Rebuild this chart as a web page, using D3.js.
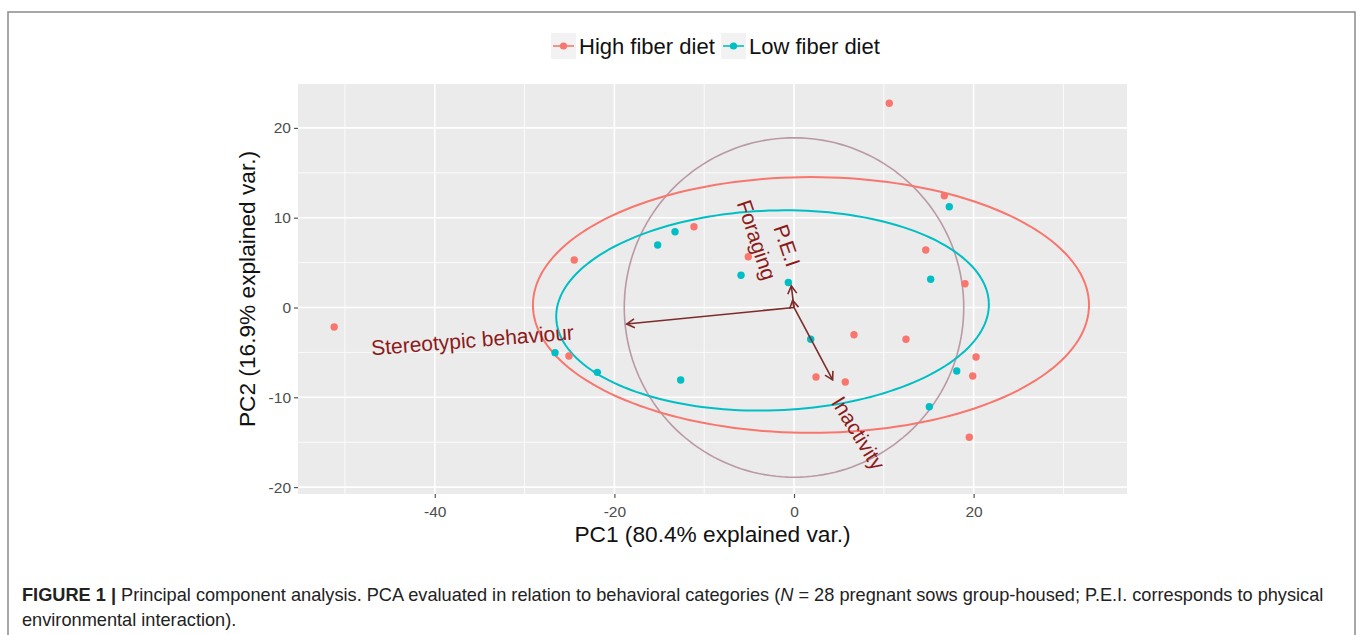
<!DOCTYPE html>
<html>
<head>
<meta charset="utf-8">
<script src="https://cdn.jsdelivr.net/npm/d3@7"></script>
<style>
  body { margin: 0; background: #fff; }
  svg { display: block; font-family: "Liberation Sans", Arial, sans-serif; }
</style>
</head>
<body>
<svg id="chart" width="1360" height="635"></svg>
<script>
// groups
const groups = ['High fiber diet', 'Low fiber diet']
const groupColors = ['#F8766D', '#00BFC4']

// PC scores, high fiber diet
const highX = [-51.2, -24.47, -11.14, -5.09, 10.61, 16.74, 14.67, 19.04, 6.68, 12.47, 20.27, 19.90, 19.52, 2.45, 5.71, -25.06]
const highY = [-2.17, 5.29, 8.99, 5.65, 22.74, 12.45, 6.40, 2.65, -3.03, -3.54, -5.51, -7.63, -14.45, -7.74, -8.30, -5.40]

// PC scores, low fiber diet
const lowX = [-26.61, -21.90, -15.18, -13.25, -5.90, -0.63, 1.86, -12.62, 17.29, 15.22, 18.12, 15.07]
const lowY = [-5.03, -7.22, 6.96, 8.44, 3.59, 2.78, -3.54, -8.07, 11.22, 3.14, -7.07, -11.05]

// group ellipses (centre, semi axes, rotation in degrees)
const ellCx = [1.89, -2.39]
const ellCy = [0.28, -0.33]
const ellA = [30.96, 24.1]
const ellB = [14.24, 11.13]
const ellRot = [0, 2]

// correlation circle
const circleR = 18.9

// variable loadings
const varNames = ['Stereotypic behaviour', 'Foraging', 'P.E.I', 'Inactivity']
const loadX = [-18.63, -0.3, -0.15, 4.3]
const loadY = [-1.84, 2.4, 0.8, -8.06]
const labelX = [-35.8, -4.15, -0.78, 7.16]
const labelY = [-3.62, 7.51, 6.9, -13.99]
const labelAngle = [-4.5, 71.5, 71.5, 58.5]

// axes
const xTicks = [-40, -20, 0, 20]
const xMinor = [-50, -30, -10, 10, 30]
const yTicks = [-20, -10, 0, 10, 20]
const yMinor = [-15, -5, 5, 15]
const xTitle = 'PC1 (80.4% explained var.)'
const yTitle = 'PC2 (16.9% explained var.)'

const svg = d3.select('#chart')

// frame round the figure
svg.append('path')
  .attr('d', 'M8,635 L8,12 L1355,12 L1355,635')
  .attr('fill', 'none')
  .attr('stroke', '#8a8a8a')
  .attr('stroke-width', 1.5)

const panel = {left: 298, right: 1127, top: 84, bottom: 494}

const x = d3.scaleLinear().domain([-55.23, 37.08]).range([panel.left, panel.right])
const y = d3.scaleLinear().domain([-20.77, 24.89]).range([panel.bottom, panel.top])

svg.append('rect')
  .attr('x', panel.left).attr('y', panel.top)
  .attr('width', panel.right - panel.left).attr('height', panel.bottom - panel.top)
  .attr('fill', '#EBEBEB')

const grid = svg.append('g')
grid.selectAll('line.xminor').data(xMinor).join('line')
  .attr('x1', d => x(d)).attr('x2', d => x(d))
  .attr('y1', panel.top).attr('y2', panel.bottom)
  .attr('stroke', '#fff').attr('stroke-width', 0.8)
grid.selectAll('line.yminor').data(yMinor).join('line')
  .attr('y1', d => y(d)).attr('y2', d => y(d))
  .attr('x1', panel.left).attr('x2', panel.right)
  .attr('stroke', '#fff').attr('stroke-width', 0.8)
grid.selectAll('line.xmajor').data(xTicks).join('line')
  .attr('x1', d => x(d)).attr('x2', d => x(d))
  .attr('y1', panel.top).attr('y2', panel.bottom)
  .attr('stroke', '#fff').attr('stroke-width', 1.6)
grid.selectAll('line.ymajor').data(yTicks).join('line')
  .attr('y1', d => y(d)).attr('y2', d => y(d))
  .attr('x1', panel.left).attr('x2', panel.right)
  .attr('stroke', '#fff').attr('stroke-width', 1.6)

// axes
const xAxis = svg.append('g')
  .attr('transform', `translate(0,${panel.bottom})`)
  .call(d3.axisBottom(x).tickValues(xTicks).tickSize(4).tickPadding(4).tickFormat(d3.format('d')))
const yAxis = svg.append('g')
  .attr('transform', `translate(${panel.left},0)`)
  .call(d3.axisLeft(y).tickValues(yTicks).tickSize(4).tickPadding(3).tickFormat(d3.format('d')))
;[xAxis, yAxis].forEach(a => {
  a.select('.domain').remove()
  a.selectAll('.tick line').attr('stroke', '#555').attr('stroke-width', 1.2)
  a.selectAll('.tick text')
    .attr('fill', '#4D4D4D')
    .style('font-size', '15.5px')
    .style('font-family', '"Liberation Sans", Arial, sans-serif')
    .text(d => String(d).replace('\u2212', '-'))
})
xAxis.selectAll('.tick text').attr('dy', '0.95em')

svg.append('text')
  .attr('x', (panel.left + panel.right) / 2).attr('y', 542)
  .attr('text-anchor', 'middle')
  .style('font-size', '22.7px').attr('fill', '#111')
  .text(xTitle)
svg.append('text')
  .attr('transform', `translate(255,${(panel.top + panel.bottom) / 2}) rotate(-90)`)
  .attr('text-anchor', 'middle')
  .style('font-size', '22.7px').attr('fill', '#111')
  .text(yTitle)

const plot = svg.append('g')

// correlation circle
const angles = d3.range(0, 361, 2).map(d => d * Math.PI / 180)
plot.append('path')
  .attr('d', d3.line()(angles.map(t => [x(circleR * Math.cos(t)), y(circleR * Math.sin(t))])))
  .attr('fill', 'none').attr('stroke', '#B999A5').attr('stroke-width', 1.6)

// group ellipses
groups.forEach((g, i) => {
  const r = ellRot[i] * Math.PI / 180
  const pts = angles.map(t => {
    const ex = ellA[i] * Math.cos(t), ey = ellB[i] * Math.sin(t)
    return [x(ellCx[i] + ex * Math.cos(r) - ey * Math.sin(r)), y(ellCy[i] + ex * Math.sin(r) + ey * Math.cos(r))]
  })
  plot.append('path')
    .attr('d', d3.line()(pts))
    .attr('fill', 'none').attr('stroke', groupColors[i]).attr('stroke-width', 2)
})

// points
const high = highX.map((d, i) => ({x: d, y: highY[i], g: 0}))
const low = lowX.map((d, i) => ({x: d, y: lowY[i], g: 1}))
plot.selectAll('circle.pt').data(high.concat(low)).join('circle')
  .attr('cx', d => x(d.x)).attr('cy', d => y(d.y))
  .attr('r', 3.7)
  .attr('fill', d => groupColors[d.g])

// loading arrows
const arrowColor = '#7E2B2B'
varNames.forEach((v, i) => {
  const x0 = x(0), y0 = y(0), x1 = x(loadX[i]), y1 = y(loadY[i])
  const a = Math.atan2(y1 - y0, x1 - x0)
  const h = 9, spread = Math.PI / 6
  plot.append('line')
    .attr('x1', x0).attr('y1', y0).attr('x2', x1).attr('y2', y1)
    .attr('stroke', arrowColor).attr('stroke-width', 1.6)
  plot.append('path')
    .attr('d', `M${x1 - h * Math.cos(a - spread)},${y1 - h * Math.sin(a - spread)} L${x1},${y1} L${x1 - h * Math.cos(a + spread)},${y1 - h * Math.sin(a + spread)}`)
    .attr('fill', 'none').attr('stroke', arrowColor).attr('stroke-width', 1.6)
  plot.append('text')
    .attr('transform', `translate(${x(labelX[i])},${y(labelY[i])}) rotate(${labelAngle[i]})`)
    .attr('text-anchor', 'middle').attr('dy', '0.35em')
    .style('font-size', '21px').attr('fill', '#8B1A1A')
    .text(v)
})

// legend
const legend = svg.append('g').attr('transform', 'translate(0,46)')
const keyX = [551, 721]
groups.forEach((g, i) => {
  const k = legend.append('g').attr('transform', `translate(${keyX[i]},0)`)
  k.append('rect').attr('x', 0).attr('y', -13).attr('width', 25).attr('height', 26).attr('fill', '#F2F2F2')
  k.append('line').attr('x1', 2).attr('x2', 23).attr('y1', 0).attr('y2', 0)
    .attr('stroke', groupColors[i]).attr('stroke-width', 1.6)
  k.append('circle').attr('cx', 12.5).attr('cy', 0).attr('r', 3.6).attr('fill', groupColors[i])
  k.append('text').attr('x', 28).attr('dy', '0.35em')
    .style('font-size', '22px').attr('fill', '#111')
    .text(g)
})

// caption
const cap = svg.append('text').attr('x', 22).attr('y', 601)
  .style('font-size', '18.2px').attr('fill', '#222')
cap.append('tspan').style('font-weight', 'bold').text('FIGURE 1 |')
cap.append('tspan').text(' Principal component analysis. PCA evaluated in relation to behavioral categories (')
cap.append('tspan').style('font-style', 'italic').text('N')
cap.append('tspan').text(' = 28 pregnant sows group-housed; P.E.I. corresponds to physical')
svg.append('text').attr('x', 22).attr('y', 626)
  .style('font-size', '18.2px').attr('fill', '#222')
  .text('environmental interaction).')
</script>
</body>
</html>
